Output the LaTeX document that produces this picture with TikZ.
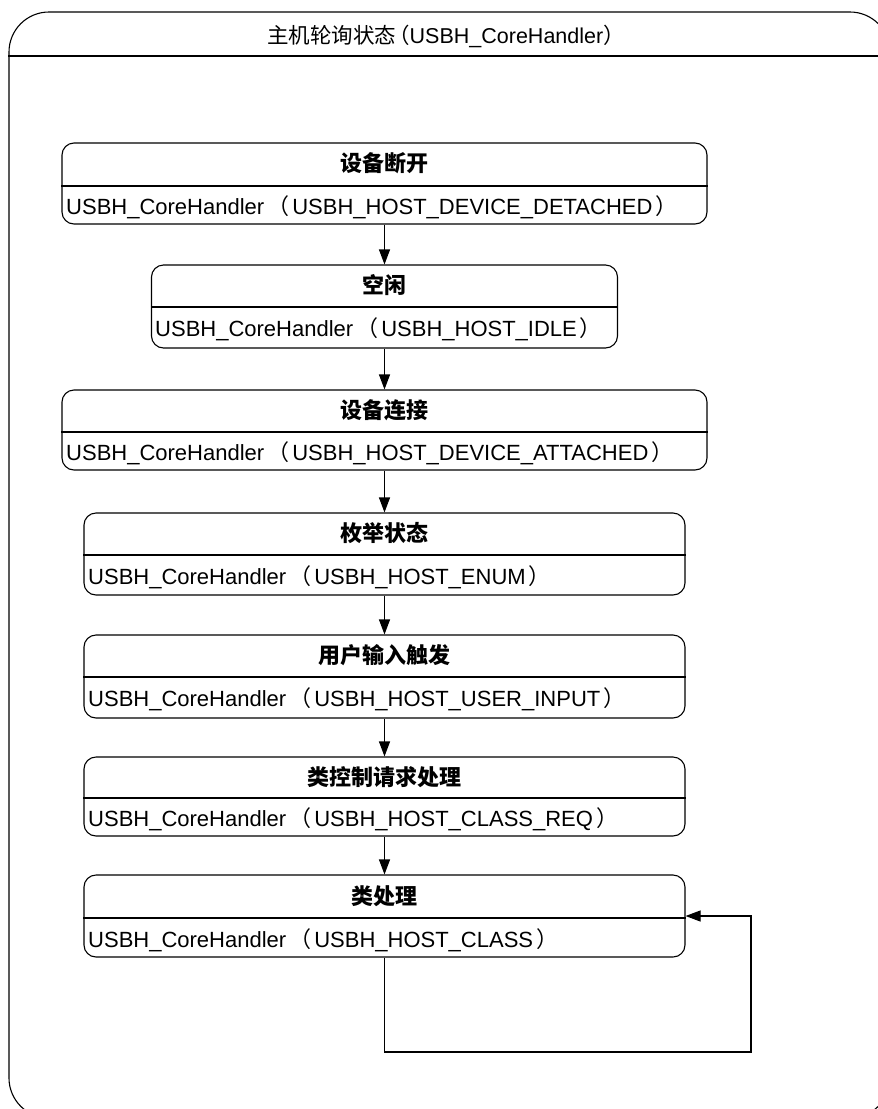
\documentclass[tikz,border=0pt]{standalone}
\usepackage{fontspec}
\setmainfont{Liberation Sans}
\newfontfamily\cjk{Noto Sans CJK SC}
\usetikzlibrary{arrows.meta}

\newcommand{\lpar}{{\cjk\kern3pt （\kern3pt}}
\newcommand{\rpar}{{\cjk\kern3pt ）\kern3pt}}

\tikzset{
  statebox/.style={draw,line width=1.1pt,rounded corners=12pt,inner sep=0pt},
  statename/.style={font=\fontsize{22}{26}\selectfont\cjk\bfseries,inner sep=0pt},
  statecall/.style={font=\fontsize{22}{26}\selectfont,anchor=west,inner sep=0pt},
  flow/.style={line width=1.1pt,-{Triangle[length=15pt,width=11pt]}}
}

\begin{document}
\begin{tikzpicture}[x=1pt,y=-1pt]
\useasboundingbox (0,0) rectangle (878,1109);
% outer frame
\node (host) [draw,line width=1.1pt,rounded corners=40pt,minimum width=881pt,minimum height=1106pt,inner sep=0pt] at (449.5,565) {};
\draw[line width=1.1pt] (host.west |- 0,56) -- (host.east |- 0,56);
\node (hostname) [font=\fontsize{21.5}{25}\selectfont,inner sep=0pt] at (446,36) {{\cjk 主机轮询状态\kern-8pt （}USBH\_CoreHandler{\cjk ）}};

% states
\node (detached) [statebox,minimum width=645pt,minimum height=81pt] at (384.5,183.5) {};
\draw[line width=1.1pt] (detached.west |- 0,186) -- (detached.east |- 0,186);
\node (detached-t) [statename] at (384.5,163) {设备断开};
\node (detached-c) [statecall] at (66,207) {USBH\_CoreHandler\lpar USBH\_HOST\_DEVICE\_DETACHED\rpar};

\node (idle) [statebox,minimum width=466pt,minimum height=83pt] at (384.5,306.5) {};
\draw[line width=1.1pt] (idle.west |- 0,307) -- (idle.east |- 0,307);
\node (idle-t) [statename] at (384.5,285) {空闲};
\node (idle-c) [statecall] at (155,329) {USBH\_CoreHandler\lpar USBH\_HOST\_IDLE\rpar};

\node (attached) [statebox,minimum width=645pt,minimum height=80pt] at (384.5,430) {};
\draw[line width=1.1pt] (attached.west |- 0,432) -- (attached.east |- 0,432);
\node (attached-t) [statename] at (384.5,410) {设备连接};
\node (attached-c) [statecall] at (66,453) {USBH\_CoreHandler\lpar USBH\_HOST\_DEVICE\_ATTACHED\rpar};

\node (enum) [statebox,minimum width=601pt,minimum height=82pt] at (384.5,554) {};
\draw[line width=1.1pt] (enum.west |- 0,555) -- (enum.east |- 0,555);
\node (enum-t) [statename] at (384.5,533) {枚举状态};
\node (enum-c) [statecall] at (88,577) {USBH\_CoreHandler\lpar USBH\_HOST\_ENUM\rpar};

\node (input) [statebox,minimum width=601pt,minimum height=83pt] at (384.5,676.5) {};
\draw[line width=1.1pt] (input.west |- 0,677) -- (input.east |- 0,677);
\node (input-t) [statename] at (384.5,655) {用户输入触发};
\node (input-c) [statecall] at (88,699) {USBH\_CoreHandler\lpar USBH\_HOST\_USER\_INPUT\rpar};

\node (classreq) [statebox,minimum width=601pt,minimum height=79pt] at (384.5,796.5) {};
\draw[line width=1.1pt] (classreq.west |- 0,798) -- (classreq.east |- 0,798);
\node (classreq-t) [statename] at (384.5,777) {类控制请求处理};
\node (classreq-c) [statecall] at (88,819) {USBH\_CoreHandler\lpar USBH\_HOST\_CLASS\_REQ\rpar};

\node (class) [statebox,minimum width=601pt,minimum height=82pt] at (384.5,916) {};
\draw[line width=1.1pt] (class.west |- 0,918) -- (class.east |- 0,918);
\node (class-t) [statename] at (384.5,896) {类处理};
\node (class-c) [statecall] at (88,940) {USBH\_CoreHandler\lpar USBH\_HOST\_CLASS\rpar};

% transitions
\draw[flow] (detached) -- (idle);
\draw[flow] (idle) -- (attached);
\draw[flow] (attached) -- (enum);
\draw[flow] (enum) -- (input);
\draw[flow] (input) -- (classreq);
\draw[flow] (classreq) -- (class);

% self loop
\coordinate (loopa) at (384.5,1052);
\coordinate (loopb) at (751,1052);
\coordinate (loopc) at (751,916);
\draw[flow] (class.south) -- (loopa) -- (loopb) -- (loopc) -- (class.east |- loopc);
\end{tikzpicture}
\end{document}
